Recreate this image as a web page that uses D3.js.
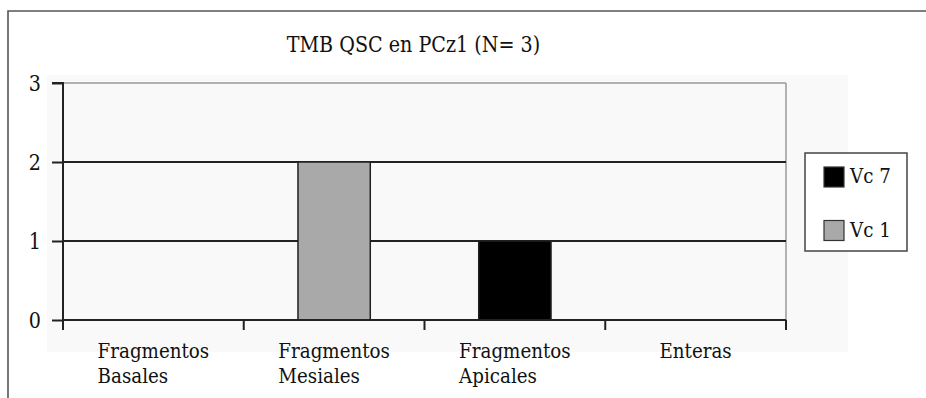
<!DOCTYPE html>
<html><head><meta charset="utf-8">
<script src="https://cdn.jsdelivr.net/npm/d3@7/dist/d3.min.js"></script>
<style>
body{margin:0;background:#fff;}
svg{display:block;}
text{font-family:"DejaVu Serif",serif;fill:#111;}
</style></head>
<body><svg id="c" width="926" height="398"></svg>
<script>
const title = "TMB QSC en PCz1 (N= 3)";
const categories = ["Fragmentos\nBasales","Fragmentos\nMesiales","Fragmentos\nApicales","Enteras"];
const seriesNames = ["Vc 7","Vc 1"];
const vc7 = [0,0,1,0];
const vc1 = [0,2,0,0];
const yTicks = [0,1,2,3];
const colors = {"Vc 7":"#000000","Vc 1":"#a9a9a9"};

const svg = d3.select("#c");
const M = {left:63, right:786, top:83, bottom:320};
const fs = 21;
const sx = 0.87; // horizontal squeeze to mimic a Times-like face

// outer frame
svg.append("path").attr("d","M8,398V11H926").attr("fill","none").attr("stroke","#555").attr("stroke-width",1.6);
// light chart area background
svg.append("rect").attr("x",47).attr("y",75).attr("width",801).attr("height",277).attr("fill","#f9f9f9");

const x = d3.scaleBand().domain(categories).range([M.left,M.right]).padding(0);
const y = d3.scaleLinear().domain([0,3]).range([M.bottom,M.top]);

// plot right border
svg.append("line").attr("x1",M.right).attr("x2",M.right).attr("y1",y(3)).attr("y2",y(0)).attr("stroke","#999").attr("stroke-width",1.5);

// gridlines
svg.append("g").selectAll("line").data(yTicks.filter(d=>d>0)).join("line")
  .attr("x1",M.left).attr("x2",M.right).attr("y1",d=>y(d)).attr("y2",d=>y(d))
  .attr("stroke",d=>d===3?"#999":"#222").attr("stroke-width",d=>d===3?1.5:2);

// stacked bars
const table = categories.map((c,i)=>({cat:c,"Vc 7":vc7[i],"Vc 1":vc1[i]}));
const stack = d3.stack().keys(seriesNames)(table);
const bw = x.bandwidth()*0.4;
svg.append("g").selectAll("g").data(stack).join("g")
  .attr("fill",d=>colors[d.key])
  .selectAll("rect").data(d=>d.filter(s=>s[1]-s[0]>0)).join("rect")
  .attr("x",d=>x(d.data.cat)+x.bandwidth()/2-bw/2)
  .attr("width",bw)
  .attr("y",d=>y(d[1]))
  .attr("height",d=>y(d[0])-y(d[1]))
  .attr("stroke","#222").attr("stroke-width",1.5);

// y axis
const ya = svg.append("g").attr("transform",`translate(${M.left},0)`)
  .call(d3.axisLeft(y).tickValues(yTicks).tickSize(11).tickFormat(d3.format("d")));
ya.attr("font-family",null);
ya.select(".domain").attr("stroke","#222").attr("stroke-width",2).attr("d",`M-11,${y(3)}H0V${y(0)}`);
ya.selectAll(".tick line").attr("stroke","#222").attr("stroke-width",2);
ya.selectAll(".tick text").attr("font-size",fs+1).attr("fill","#111").attr("x",0).attr("dy","0.36em")
  .attr("transform",`translate(-22,0) scale(${sx},1)`);

// x axis line + ticks at category boundaries
const xa = svg.append("g");
xa.append("line").attr("x1",M.left).attr("x2",M.right).attr("y1",y(0)).attr("y2",y(0)).attr("stroke","#222").attr("stroke-width",2);
const bounds = categories.map(c=>x(c)).concat([M.right]);
xa.selectAll("line.t").data(bounds).join("line").attr("class","t")
  .attr("x1",d=>d).attr("x2",d=>d).attr("y1",y(0)).attr("y2",y(0)+10).attr("stroke","#222").attr("stroke-width",2);
// category labels (left-aligned block, centred on band)
const lab = svg.append("g").selectAll("text").data(categories).join("text")
  .attr("font-size",fs)
  .attr("transform",d=>`translate(${x(d)+x.bandwidth()/2},${y(0)+38}) scale(${sx},1)`);
lab.selectAll("tspan").data(d=>d.split("\n")).join("tspan")
  .attr("x",0).attr("dy",(d,i)=>i===0?0:25.5).text(d=>d);
lab.each(function(){
  const t = d3.select(this);
  const w = d3.max(t.selectAll("tspan").nodes(), n=>n.getComputedTextLength());
  t.selectAll("tspan").attr("x",-w/2);
});

// title
svg.append("text").attr("text-anchor","middle").attr("font-size",fs+1)
  .attr("transform",`translate(413.5,52) scale(${sx},1)`).text(title);

// legend
const lg = svg.append("g");
lg.append("rect").attr("x",805).attr("y",153).attr("width",102).attr("height",98).attr("fill","#fff").attr("stroke","#444").attr("stroke-width",1.5);
const items = lg.selectAll("g").data(seriesNames).join("g")
  .attr("transform",(d,i)=>`translate(824,${167+i*53.5})`);
items.append("rect").attr("width",20).attr("height",20).attr("fill",d=>colors[d]).attr("stroke","#333").attr("stroke-width",1.2);
items.append("text").attr("font-size",fs).attr("transform",`translate(26,16) scale(${sx},1)`).text(d=>d);
</script></body></html>
